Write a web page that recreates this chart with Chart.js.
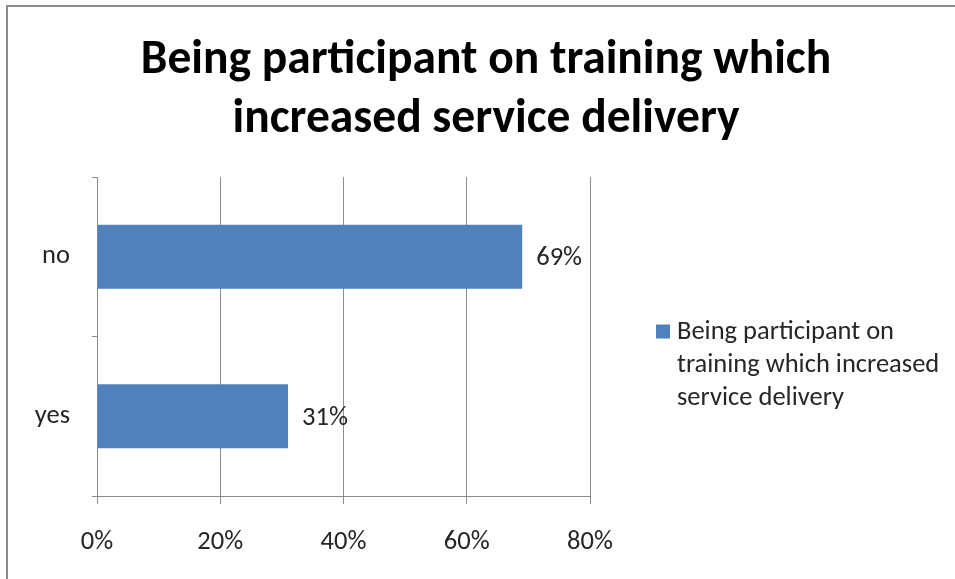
<!DOCTYPE html>
<html>
<head>
<meta charset="utf-8">
<script src="https://cdn.jsdelivr.net/npm/chart.js@4.4.1/dist/chart.umd.min.js"></script>
<style>
  body { margin: 0; background: #fff; }
  #wrap { position: relative; width: 955px; height: 579px; overflow: hidden; }
  #frame { position: absolute; left: 6px; top: 5px; width: 1200px; height: 800px;
           border-top: 2px solid #8a8a8a; border-left: 2px solid #8a8a8a; pointer-events: none; }
</style>
</head>
<body>
<div id="wrap">
  <canvas id="chart" width="955" height="579"></canvas>
  <div id="frame"></div>
</div>
<script>
const chartTitle = ['Being participant on training which', 'increased service delivery'];
const categories = ['no', 'yes'];
const shares = [69, 31];
const seriesName = ['Being participant on', 'training which increased', 'service delivery'];
const tickMax = 80;
const tickStep = 20;
const barColor = '#4f81bd';
const axisColor = '#8c8c8c';
const textColor = '#262626';
const fontFamily = 'Carlito, Calibri, Lato, sans-serif';

// percent labels just right of each bar
const barLabels = {
    id: 'barLabels',
    afterDatasetsDraw(chart) {
        const ctx = chart.ctx;
        const meta = chart.getDatasetMeta(0);
        ctx.save();
        ctx.font = '26.5px ' + fontFamily;
        ctx.fillStyle = textColor;
        ctx.textAlign = 'left';
        ctx.textBaseline = 'middle';
        meta.data.forEach((bar, i) => {
            ctx.fillText(shares[i] + '%', bar.x + 14, bar.y + 2);
        });
        ctx.restore();
    }
};

// excel style legend on the right, wrapped on three lines
const sideLegend = {
    id: 'sideLegend',
    afterDraw(chart) {
        const ctx = chart.ctx;
        const area = chart.chartArea;
        const x = area.right + 66;
        const y = (area.top + area.bottom) / 2 - 5;
        ctx.save();
        ctx.fillStyle = chart.data.datasets[0].backgroundColor;
        ctx.fillRect(x, y - 7, 14, 14);
        ctx.font = '26.5px ' + fontFamily;
        ctx.fillStyle = textColor;
        ctx.textAlign = 'left';
        ctx.textBaseline = 'middle';
        seriesName.forEach((line, i) => {
            ctx.fillText(line, x + 21, y + 1 + i * 33);
        });
        ctx.restore();
    }
};

new Chart(document.getElementById('chart'), {
    type: 'bar',
    data: {
        labels: categories,
        datasets: [{
            label: seriesName.join(' '),
            data: shares,
            backgroundColor: barColor,
            categoryPercentage: 1,
            barPercentage: 0.4
        }]
    },
    options: {
        indexAxis: 'y',
        responsive: false,
        animation: false,
        layout: { padding: { left: 17, right: 0, top: 0, bottom: 0 } },
        plugins: {
            legend: { display: false },
            tooltip: { enabled: false },
            title: {
                display: true,
                text: chartTitle,
                color: '#000',
                font: { family: fontFamily, size: 47.5, weight: 'bold', lineHeight: '59px' },
                padding: { top: 32, bottom: 27 }
            }
        },
        scales: {
            x: {
                min: 0,
                max: tickMax,
                ticks: {
                    stepSize: tickStep,
                    color: textColor,
                    padding: 23,
                    font: { family: fontFamily, size: 26.5, lineHeight: '30px' },
                    callback: v => v + '%'
                },
                grid: { color: axisColor, tickLength: 8 },
                border: { color: axisColor },
                afterFit: s => { s.height = 83; }
            },
            y: {
                ticks: {
                    color: textColor,
                    padding: 22,
                    font: { family: fontFamily, size: 26.5 }
                },
                grid: { offset: true, drawOnChartArea: false, color: axisColor, tickLength: 5 },
                border: { color: axisColor },
                afterFit: s => { s.width = 80; }
            },
            // empty axis that only keeps room for the legend
            side: {
                type: 'linear',
                position: 'right',
                display: true,
                ticks: { display: false },
                grid: { display: false },
                border: { display: false },
                afterFit: s => { s.width = 365; }
            }
        }
    },
    plugins: [barLabels, sideLegend]
});
</script>
</body>
</html>
